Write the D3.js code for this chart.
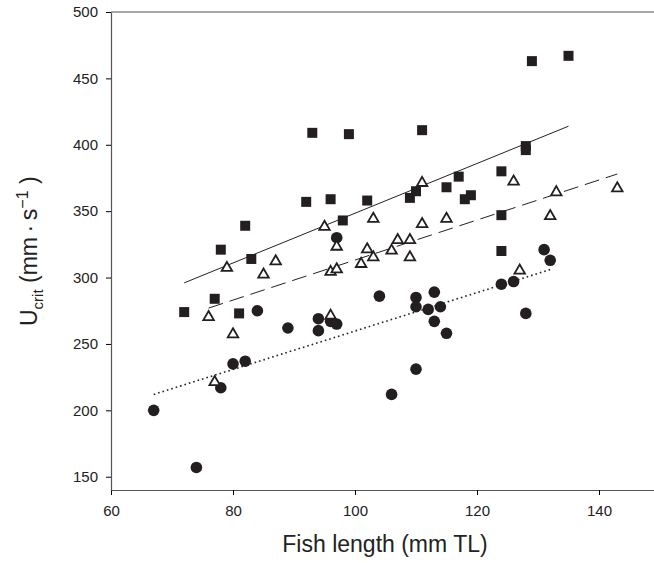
<!DOCTYPE html>
<html>
<head>
<meta charset="utf-8">
<script src="https://cdn.jsdelivr.net/npm/d3@7"></script>
<style>
  body { margin: 0; background: #fff; }
  svg { display: block; font-family: Arial, "Liberation Sans", sans-serif; }
</style>
</head>
<body>
<svg id="chart" width="654" height="563"></svg>
<script>
// fish length (mm TL) and Ucrit (mm/s)
const squareLen = [72, 77, 78, 81, 82, 83, 92, 93, 96, 98, 99, 102, 109, 110, 111, 115, 117, 118, 119, 124, 124, 124, 128, 128, 129, 135];
const squareU   = [274, 284, 321, 273, 339, 314, 357, 409, 359, 343, 408, 358, 360, 365, 411, 368, 376, 359, 362, 380, 347, 320, 399, 396, 463, 467];

const triLen = [76, 77, 79, 80, 85, 87, 95, 96, 96, 97, 97, 101, 102, 103, 103, 106, 107, 109, 109, 111, 111, 115, 126, 127, 132, 133, 143];
const triU   = [271, 222, 308, 258, 303, 313, 339, 305, 272, 307, 324, 311, 322, 345, 316, 321, 329, 329, 316, 372, 341, 345, 373, 306, 347, 365, 368];

const circLen = [67, 74, 78, 80, 82, 84, 89, 94, 94, 96, 97, 97, 104, 106, 110, 110, 110, 112, 113, 113, 114, 115, 124, 126, 128, 131, 132];
const circU   = [200, 157, 217, 235, 237, 275, 262, 269, 260, 267, 265, 330, 286, 212, 285, 278, 231, 276, 289, 267, 278, 258, 295, 297, 273, 321, 313];

// regression lines, end points [length, Ucrit]
const fitSquare = [[72, 296], [135, 414]];
const fitTri    = [[76, 277], [143, 378]];
const fitCirc   = [[67, 212], [132, 306]];

const xTicks = [60, 80, 100, 120, 140];
const yTicks = [150, 200, 250, 300, 350, 400, 450, 500];

const svg = d3.select("#chart");
const ink = "#231f20";

const x = d3.scaleLinear().domain([60, 150]).range([111, 660]);
const y = d3.scaleLinear().domain([140, 500]).range([490, 12]);

// top frame
svg.append("line")
    .attr("x1", x(60)).attr("x2", 654)
    .attr("y1", y(500)).attr("y2", y(500))
    .attr("stroke", "#8a8a8a").attr("stroke-width", 1.5);

const xAxis = svg.append("g")
    .attr("transform", `translate(0,${y(140)})`)
    .call(d3.axisBottom(x).tickValues(xTicks).tickSize(5).tickSizeOuter(0).tickPadding(10));

const yAxis = svg.append("g")
    .attr("transform", `translate(${x(60)},0)`)
    .call(d3.axisLeft(y).tickValues(yTicks).tickSize(5).tickSizeOuter(0).tickPadding(8));

[xAxis, yAxis].forEach(g => {
    g.select(".domain").attr("stroke", "#555").attr("stroke-width", 1.2);
    g.selectAll(".tick line").attr("stroke", "#000");
    g.selectAll(".tick text").attr("fill", "#222").style("font-size", "15px")
        .style("font-family", "Arial, 'Liberation Sans', sans-serif");
});

// fit lines
const line = d3.line().x(d => x(d[0])).y(d => y(d[1]));
svg.append("path").datum(fitSquare).attr("d", line)
    .attr("fill", "none").attr("stroke", "#222").attr("stroke-width", 1);
svg.append("path").datum(fitTri).attr("d", line)
    .attr("fill", "none").attr("stroke", "#222").attr("stroke-width", 1)
    .attr("stroke-dasharray", "15,7");
svg.append("path").datum(fitCirc).attr("d", line)
    .attr("fill", "none").attr("stroke", "#222").attr("stroke-width", 1.6)
    .attr("stroke-dasharray", "1.6,3");

// points
svg.append("g").selectAll("circle")
    .data(d3.zip(circLen, circU))
    .join("circle")
    .attr("cx", d => x(d[0])).attr("cy", d => y(d[1]))
    .attr("r", 5.8).attr("fill", ink);

svg.append("g").selectAll("path")
    .data(d3.zip(squareLen, squareU))
    .join("path")
    .attr("transform", d => `translate(${x(d[0])},${y(d[1])})`)
    .attr("d", d3.symbol(d3.symbolSquare, 100))
    .attr("fill", ink);

svg.append("g").selectAll("path")
    .data(d3.zip(triLen, triU))
    .join("path")
    .attr("transform", d => `translate(${x(d[0])},${y(d[1]) + 1})`)
    .attr("d", d3.symbol(d3.symbolTriangle, 48))
    .attr("fill", "#fff").attr("stroke", ink).attr("stroke-width", 1.8);

// axis titles
svg.append("text")
    .attr("x", 385).attr("y", 552)
    .attr("text-anchor", "middle")
    .attr("fill", "#222")
    .style("font-size", "23px")
    .text("Fish length (mm TL)");

const yt = svg.append("text")
    .attr("transform", "translate(37,326) rotate(-90)")
    .attr("fill", "#222")
    .style("font-size", "23px");
yt.append("tspan").text("U");
yt.append("tspan").attr("dy", 6).style("font-size", "15px").text("crit");
yt.append("tspan").attr("dy", -6).text(" (mm\u2009\u00b7\u2009s");
yt.append("tspan").attr("dy", -9).style("font-size", "16px").text("\u22121");
yt.append("tspan").attr("dy", 9).text(" )");
</script>
</body>
</html>
